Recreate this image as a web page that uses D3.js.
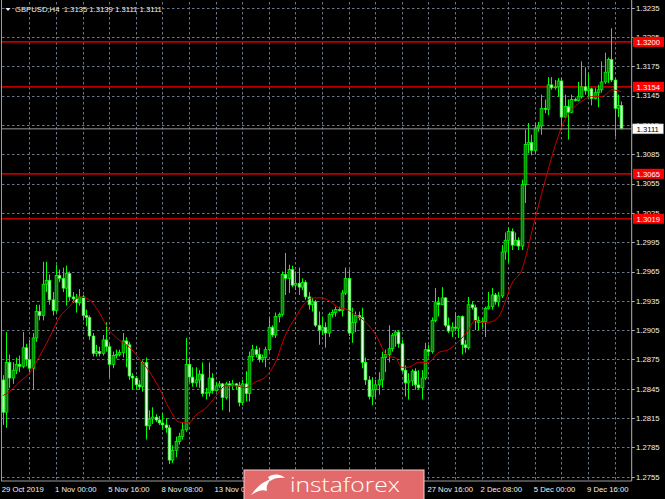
<!DOCTYPE html>
<html><head><meta charset="utf-8">
<script src="https://cdn.jsdelivr.net/npm/d3@7"></script>
<style>html,body{margin:0;padding:0;background:#000;overflow:hidden}svg{display:block}</style>
</head><body>
<svg id="chart" width="665" height="499"></svg>
<script>
// ---- data (GBPUSD H4) ----
const symbolTitle = "GBPUSD,H4";
const lastOHLC = [1.3135, 1.3139, 1.3111, 1.3111];
const opens = [1.2854,1.2821,1.2872,1.2856,1.2864,1.2870,1.2868,1.2887,1.2875,1.2866,
1.2897,1.2924,1.2920,1.2952,1.2956,1.2936,1.2925,1.2961,1.2958,1.2948,
1.2963,1.2939,1.2937,1.2933,1.2939,1.2920,1.2918,1.2899,1.2881,1.2883,
1.2881,1.2895,1.2888,1.2870,1.2879,1.2880,1.2882,1.2894,1.2890,1.2858,
1.2856,1.2849,1.2847,1.2872,1.2807,1.2814,1.2816,1.2813,1.2810,1.2808,
1.2805,1.2772,1.2782,1.2791,1.2796,1.2803,1.2870,1.2857,1.2851,1.2854,
1.2860,1.2840,1.2841,1.2856,1.2843,1.2848,1.2850,1.2836,1.2850,1.2848,
1.2850,1.2848,1.2831,1.2850,1.2840,1.2878,1.2885,1.2880,1.2875,1.2877,
1.2885,1.2908,1.2900,1.2919,1.2921,1.2962,1.2958,1.2967,1.2951,1.2953,
1.2949,1.2954,1.2939,1.2931,1.2934,1.2910,1.2905,1.2908,1.2902,1.2921,
1.2923,1.2926,1.2925,1.2943,1.2958,1.2902,1.2913,1.2920,1.2918,1.2872,
1.2854,1.2837,1.2844,1.2849,1.2854,1.2877,1.2880,1.2886,1.2900,1.2903,
1.2891,1.2864,1.2851,1.2853,1.2863,1.2849,1.2846,1.2856,1.2885,1.2883,
1.2915,1.2933,1.2931,1.2938,1.2910,1.2904,1.2908,1.2907,1.2919,1.2890,
1.2887,1.2931,1.2928,1.2915,1.2913,1.2914,1.2927,1.2929,1.2941,1.2934,
1.2940,1.2985,1.2997,1.3006,1.2992,1.2997,1.2991,1.3054,1.3095,1.3097,
1.3089,1.3112,1.3114,1.3132,1.3131,1.3156,1.3153,1.3154,1.3160,1.3123,
1.3134,1.3128,1.3141,1.3140,1.3144,1.3154,1.3150,1.3152,1.3142,1.3148,
1.3151,1.3159,1.3169,1.3182,1.3161,1.3132,1.3135];
const highs = [1.2859,1.2903,1.2880,1.2872,1.2877,1.2879,1.2903,1.2891,1.2895,1.2902,
1.2931,1.2931,1.2975,1.2975,1.2962,1.2944,1.2972,1.2967,1.2969,1.2971,
1.2965,1.2944,1.2942,1.2947,1.2941,1.2926,1.2920,1.2902,1.2890,1.2888,
1.2900,1.2913,1.2891,1.2883,1.2885,1.2885,1.2902,1.2898,1.2893,1.2861,
1.2858,1.2854,1.2874,1.2877,1.2823,1.2826,1.2819,1.2817,1.2820,1.2815,
1.2808,1.2787,1.2796,1.2800,1.2810,1.2897,1.2877,1.2867,1.2867,1.2864,
1.2872,1.2846,1.2872,1.2861,1.2852,1.2853,1.2851,1.2852,1.2853,1.2854,
1.2851,1.2852,1.2854,1.2863,1.2883,1.2890,1.2889,1.2887,1.2880,1.2888,
1.2919,1.2910,1.2923,1.2923,1.2965,1.2984,1.2972,1.2971,1.2965,1.2969,
1.2958,1.2956,1.2944,1.2938,1.2936,1.2924,1.2919,1.2913,1.2923,1.2926,
1.2929,1.2929,1.2946,1.2969,1.2967,1.2928,1.2924,1.2924,1.2928,1.2877,
1.2858,1.2857,1.2854,1.2862,1.2883,1.2885,1.2910,1.2902,1.2905,1.2905,
1.2895,1.2869,1.2861,1.2865,1.2866,1.2864,1.2864,1.2892,1.2890,1.2918,
1.2948,1.2939,1.2949,1.2939,1.2918,1.2913,1.2923,1.2920,1.2920,1.2895,
1.2939,1.2934,1.2931,1.2919,1.2918,1.2929,1.2944,1.2948,1.2943,1.2944,
1.2992,1.3005,1.3010,1.3009,1.3005,1.3000,1.3059,1.3110,1.3117,1.3105,
1.3117,1.3118,1.3146,1.3141,1.3164,1.3164,1.3161,1.3163,1.3163,1.3146,
1.3141,1.3146,1.3143,1.3159,1.3180,1.3174,1.3168,1.3153,1.3153,1.3156,
1.3180,1.3189,1.3184,1.3214,1.3163,1.3146,1.3139];
const lows = [1.2808,1.2805,1.2846,1.2850,1.2860,1.2862,1.2866,1.2868,1.2862,1.2844,
1.2893,1.2915,1.2915,1.2944,1.2931,1.2920,1.2923,1.2954,1.2944,1.2930,
1.2935,1.2933,1.2923,1.2930,1.2915,1.2909,1.2895,1.2878,1.2878,1.2878,
1.2879,1.2883,1.2856,1.2866,1.2876,1.2878,1.2877,1.2867,1.2854,1.2844,
1.2844,1.2844,1.2842,1.2793,1.2803,1.2809,1.2811,1.2808,1.2803,1.2800,
1.2768,1.2769,1.2775,1.2788,1.2793,1.2801,1.2852,1.2847,1.2847,1.2846,
1.2837,1.2834,1.2837,1.2840,1.2842,1.2846,1.2823,1.2834,1.2821,1.2844,
1.2844,1.2827,1.2828,1.2832,1.2832,1.2873,1.2877,1.2872,1.2872,1.2867,
1.2883,1.2898,1.2897,1.2913,1.2919,1.2941,1.2943,1.2949,1.2946,1.2941,
1.2946,1.2936,1.2926,1.2924,1.2908,1.2890,1.2900,1.2887,1.2898,1.2918,
1.2919,1.2924,1.2919,1.2941,1.2899,1.2892,1.2903,1.2915,1.2866,1.2849,
1.2834,1.2828,1.2836,1.2839,1.2846,1.2862,1.2872,1.2883,1.2888,1.2887,
1.2862,1.2837,1.2834,1.2848,1.2844,1.2844,1.2834,1.2854,1.2878,1.2881,
1.2913,1.2919,1.2931,1.2908,1.2902,1.2898,1.2904,1.2897,1.2880,1.2882,
1.2885,1.2926,1.2905,1.2905,1.2908,1.2898,1.2926,1.2926,1.2931,1.2929,
1.2938,1.2977,1.2974,1.2987,1.2992,1.2987,1.2987,1.3035,1.3086,1.3084,
1.3086,1.3108,1.3105,1.3127,1.3125,1.3151,1.3151,1.3144,1.3110,1.3123,
1.3100,1.3127,1.3139,1.3139,1.3142,1.3146,1.3143,1.3135,1.3141,1.3133,
1.3148,1.3157,1.3158,1.3159,1.3103,1.3123,1.3111];
const closes = [1.2821,1.2872,1.2856,1.2864,1.2870,1.2868,1.2887,1.2875,1.2866,1.2897,
1.2924,1.2920,1.2952,1.2956,1.2936,1.2925,1.2961,1.2958,1.2948,1.2963,
1.2939,1.2937,1.2933,1.2939,1.2920,1.2918,1.2899,1.2881,1.2883,1.2881,
1.2895,1.2888,1.2870,1.2879,1.2880,1.2882,1.2894,1.2890,1.2858,1.2856,
1.2849,1.2847,1.2872,1.2807,1.2814,1.2816,1.2813,1.2810,1.2808,1.2805,
1.2772,1.2782,1.2791,1.2796,1.2803,1.2870,1.2857,1.2851,1.2854,1.2860,
1.2840,1.2841,1.2856,1.2843,1.2848,1.2850,1.2836,1.2850,1.2848,1.2850,
1.2848,1.2831,1.2850,1.2840,1.2878,1.2885,1.2880,1.2875,1.2877,1.2885,
1.2908,1.2900,1.2919,1.2921,1.2962,1.2958,1.2967,1.2951,1.2953,1.2949,
1.2954,1.2939,1.2931,1.2934,1.2910,1.2905,1.2908,1.2902,1.2921,1.2923,
1.2926,1.2925,1.2943,1.2958,1.2902,1.2913,1.2920,1.2918,1.2872,1.2854,
1.2837,1.2844,1.2849,1.2854,1.2877,1.2880,1.2886,1.2900,1.2903,1.2891,
1.2864,1.2851,1.2853,1.2863,1.2849,1.2846,1.2856,1.2885,1.2883,1.2915,
1.2933,1.2931,1.2938,1.2910,1.2904,1.2908,1.2907,1.2919,1.2890,1.2887,
1.2931,1.2928,1.2915,1.2913,1.2914,1.2927,1.2929,1.2941,1.2934,1.2940,
1.2985,1.2997,1.3006,1.2992,1.2997,1.2991,1.3054,1.3095,1.3097,1.3089,
1.3112,1.3114,1.3132,1.3131,1.3156,1.3153,1.3154,1.3160,1.3123,1.3134,
1.3128,1.3141,1.3140,1.3144,1.3154,1.3150,1.3152,1.3142,1.3148,1.3151,
1.3159,1.3169,1.3182,1.3161,1.3132,1.3135,1.3111];
// moving average, sampled at these bars
const maBars = [0,2,5,8,11,14,17,20,23,26,29,32,35,38,41,44,47,50,53,56,58,61,64,67,70,73,76,79,82,85,88,91,93,96,99,101,103,105,107,110,112,116,118,120,122,125,128,131,134,137,140,142,144,146,149,151,153,156,160,164,167,169,171,174,177,180,182,183,185,186];
const maVals = [1.2838,1.2842,1.2852,1.2861,1.2878,1.2897,1.2918,1.2929,1.2939,1.2936,1.2923,1.2905,1.2895,1.2888,1.2876,1.2863,1.2846,1.2825,1.2811,1.2810,1.2818,1.2825,1.2837,1.2848,1.2848,1.2846,1.2852,1.2857,1.2872,1.2900,1.2918,1.2933,1.2938,1.2938,1.2933,1.2928,1.2927,1.2923,1.2919,1.2910,1.2901,1.2878,1.2877,1.2867,1.2867,1.2872,1.2872,1.2882,1.2885,1.2893,1.2905,1.2915,1.2913,1.2913,1.2918,1.2933,1.2952,1.2966,1.3018,1.3069,1.3103,1.3120,1.3130,1.3139,1.3144,1.3144,1.3148,1.3151,1.3150,1.3149];
const priceTicks = [1.2755,1.2785,1.2815,1.2845,1.2875,1.2905,1.2935,1.2965,1.2995,1.3025,1.3055,1.3085,1.3115,1.3145,1.3175,1.3205,1.3235];
// time labels visible in the picture (the others sit under the logo)
const timeLabels = ["29 Oct 2019","1 Nov 00:00","5 Nov 16:00","8 Nov 08:00","13 Nov 00:00","27 Nov 16:00","2 Dec 08:00","5 Dec 00:00","9 Dec 16:00"];
const timeLabelBars = [0,16,32,48,64,128,144,160,176];
const gridBars = [8,16,24,32,40,48,56,64,72,80,88,96,104,112,120,128,136,144,152,160,168,176,184];
const levelValues = [1.3200,1.3154,1.3065,1.3019];
const currentPrice = 1.3111;
const brand = "instaforex";

// ---- drawing ----
const svg = d3.select("#chart");
const FONT = "'Liberation Sans', Arial, sans-serif";
const plot = {left:1, right:631.7, top:2, bottom:481};
const x = d3.scaleLinear().domain([0,186]).range([2.8,621.25]);
const y = d3.scaleLinear().domain([1.2755,1.3235]).range([476.7,7.7]);

svg.append("rect").attr("width",665).attr("height",499).attr("fill","#000");

// grid
const grid = svg.append("g").attr("stroke","#6b7684").attr("stroke-width",1).attr("stroke-dasharray","2.5,2.5");
grid.selectAll("line.h").data(priceTicks).join("line")
  .attr("x1",plot.left+1).attr("x2",plot.right)
  .attr("y1",d=>Math.round(y(d))+0.5).attr("y2",d=>Math.round(y(d))+0.5);
grid.selectAll("line.v").data(gridBars).join("line")
  .attr("x1",d=>Math.round(x(d))+0.5).attr("x2",d=>Math.round(x(d))+0.5)
  .attr("y1",plot.top).attr("y2",plot.bottom);

// horizontal levels
svg.append("g").selectAll("line").data(levelValues).join("line")
  .attr("x1",plot.left).attr("x2",plot.right)
  .attr("y1",d=>y(d)).attr("y2",d=>y(d))
  .attr("stroke","#b80000").attr("stroke-width",1.7);

// candles
const bars = closes.map((c,i)=>({i,o:opens[i],h:highs[i],l:lows[i],c}));
const cg = svg.append("g");
cg.selectAll("line").data(bars).join("line")
  .attr("x1",d=>Math.round(x(d.i))+0.5).attr("x2",d=>Math.round(x(d.i))+0.5)
  .attr("y1",d=>y(d.h)).attr("y2",d=>y(d.l))
  .attr("stroke","#00ff00").attr("stroke-width",1);
cg.selectAll("rect").data(bars).join("rect")
  .attr("x",d=>Math.round(x(d.i))+0.5-1.4).attr("width",2.8)
  .attr("y",d=>y(Math.max(d.o,d.c)))
  .attr("height",d=>Math.max(0.6,Math.abs(y(d.o)-y(d.c))))
  .attr("fill",d=>d.c>=d.o?"#0f7f0f":"#e4ffe4")
  .attr("stroke","#00ff00").attr("stroke-width",0.7);

// moving average
svg.append("path")
  .datum(maBars.map((b,k)=>[b,maVals[k]]))
  .attr("fill","none").attr("stroke","#c80000").attr("stroke-width",1)
  .attr("d",d3.line().x(d=>x(d[0])).y(d=>y(d[1])).curve(d3.curveMonotoneX));

// current price line
svg.append("line").attr("x1",plot.left).attr("x2",plot.right)
  .attr("y1",y(currentPrice)).attr("y2",y(currentPrice))
  .attr("stroke","#9a9a9a").attr("stroke-width",1);

// frame
svg.append("line").attr("x1",1.5).attr("x2",1.5).attr("y1",0).attr("y2",plot.bottom).attr("stroke","#9a9a9a");
svg.append("line").attr("x1",plot.right).attr("x2",plot.right).attr("y1",0).attr("y2",plot.bottom).attr("stroke","#b0b0b0");
svg.append("line").attr("x1",1).attr("x2",plot.right).attr("y1",plot.bottom).attr("y2",plot.bottom).attr("stroke","#9a9a9a");

// price axis
const ax = svg.append("g").attr("font-family",FONT).attr("font-size",7.7).attr("fill","#f0f0f0");
ax.selectAll("line").data(priceTicks).join("line")
  .attr("x1",plot.right).attr("x2",plot.right+3)
  .attr("y1",d=>Math.round(y(d))+0.5).attr("y2",d=>Math.round(y(d))+0.5)
  .attr("stroke","#b0b0b0");
ax.selectAll("text").data(priceTicks).join("text")
  .attr("x",636).attr("y",d=>y(d)+2.8).text(d=>d.toFixed(4));

// level labels
const lv = svg.append("g").attr("font-family",FONT).attr("font-size",7.7);
lv.selectAll("rect").data(levelValues).join("rect")
  .attr("x",633).attr("y",d=>y(d)-5).attr("width",31).attr("height",10).attr("fill","#ff0000");
lv.selectAll("text").data(levelValues).join("text")
  .attr("x",636.5).attr("y",d=>y(d)+2.8).attr("fill","#ffffff").text(d=>d.toFixed(4));
lv.append("rect").attr("x",632.5).attr("y",y(currentPrice)-5).attr("width",31).attr("height",10)
  .attr("fill","#ffffff").attr("stroke","#808080").attr("stroke-width",0.5);
lv.append("text").attr("x",636.5).attr("y",y(currentPrice)+2.8).attr("fill","#000").text(currentPrice.toFixed(4));

// time axis
svg.append("g").attr("font-family",FONT).attr("font-size",7.7).attr("fill","#f0f0f0")
  .selectAll("text").data(timeLabels).join("text")
  .attr("x",(d,k)=>x(timeLabelBars[k])-1).attr("y",491.5).text(d=>d);

// header
svg.append("path").attr("d","M5.5,8 L10.5,8 L8,11 Z").attr("fill","#f0f0f0");
svg.append("text").attr("x",15).attr("y",11.7).attr("font-family",FONT).attr("font-size",7.7).attr("fill","#f0f0f0")
  .attr("xml:space","preserve")
  .text(symbolTitle + "  " + lastOHLC.map(v=>v.toFixed(4)).join(" "));

// instaforex logo
const logo = svg.append("g");
logo.append("rect").attr("x",244).attr("y",470).attr("width",180).attr("height",30)
  .attr("fill","#e26a6a").attr("stroke","#f4d0d0").attr("stroke-width",1);
logo.append("path").attr("fill","#ffffff")
  .attr("d","M251,495 C257,487 262,482 271,479 C267,484 266,487 267,491 C262,489 258,491 251,495 Z M268,477 C274,473 281,474 285,478 C279,477 274,478 270,481 Z");
logo.append("text").attr("x",290).attr("y",492).attr("font-family","'Open Sans','Lato',sans-serif")
  .attr("font-size",21).attr("font-weight",300).attr("fill","#ffffff")
  .attr("textLength",110).attr("lengthAdjust","spacingAndGlyphs").text(brand);
</script>
</body></html>
